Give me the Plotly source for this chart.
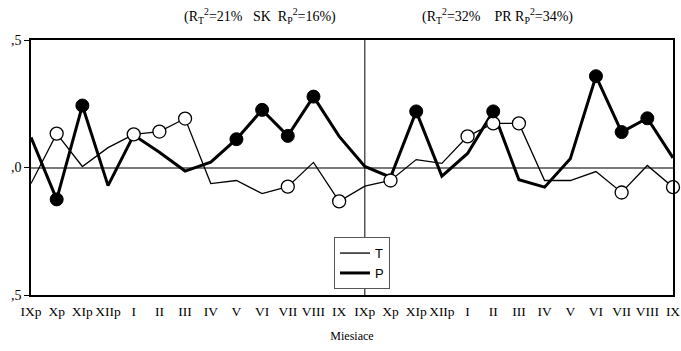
import plotly.graph_objects as go

months = ["IXp", "Xp", "XIp", "XIIp", "I", "II", "III", "IV", "V", "VI", "VII", "VIII", "IX",
          "IXp", "Xp", "XIp", "XIIp", "I", "II", "III", "IV", "V", "VI", "VII", "VIII", "IX"]

T_values = [-0.063, 0.133, 0.004, 0.078, 0.130, 0.141, 0.192, -0.063, -0.051, -0.102, -0.075, 0.020, -0.133,
            -0.073, -0.051, 0.031, 0.016, 0.122, 0.173, 0.173, -0.051, -0.051, -0.016, -0.098, 0.008, -0.077]
P_values = [0.118, -0.125, 0.243, -0.071, 0.127, 0.060, -0.014, 0.021, 0.111, 0.226, 0.124, 0.278, 0.122,
            0.004, -0.038, 0.220, -0.034, 0.055, 0.220, -0.048, -0.077, 0.034, 0.358, 0.139, 0.193, 0.038]

# indices with significant markers
T_marked = [1, 4, 5, 6, 10, 12, 14, 17, 18, 19, 23, 25]
P_marked = [1, 2, 8, 9, 10, 11, 15, 18, 22, 23, 24]

y_ticks = [-0.5, 0.0, 0.5]
y_ticktext = [",5", ",0", ",5"]

titles = ["(R<sub>T</sub><sup>2</sup>=21%   SK  R<sub>P</sub><sup>2</sup>=16%)",
          "(R<sub>T</sub><sup>2</sup>=32%    PR R<sub>P</sub><sup>2</sup>=34%)"]

x = list(range(len(months)))
serif = "Liberation Serif, Times New Roman, serif"

fig = go.Figure()
fig.add_trace(go.Scatter(x=x, y=T_values, mode="lines", line=dict(color="black", width=1.3),
                         showlegend=False, cliponaxis=False))
fig.add_trace(go.Scatter(x=x, y=P_values, mode="lines", line=dict(color="black", width=3),
                         showlegend=False, cliponaxis=False))
fig.add_trace(go.Scatter(x=[x[i] for i in T_marked], y=[T_values[i] for i in T_marked], mode="markers",
                         marker=dict(symbol="circle", size=13, color="white", line=dict(color="black", width=1.3)),
                         showlegend=False, cliponaxis=False))
fig.add_trace(go.Scatter(x=[x[i] for i in P_marked], y=[P_values[i] for i in P_marked], mode="markers",
                         marker=dict(symbol="circle", size=13, color="black", line=dict(color="black", width=1)),
                         showlegend=False, cliponaxis=False))
# legend-only entries
fig.add_trace(go.Scatter(x=[None], y=[None], mode="lines", name="T", line=dict(color="black", width=1.3)))
fig.add_trace(go.Scatter(x=[None], y=[None], mode="lines", name="P", line=dict(color="black", width=3)))

fig.add_shape(type="line", xref="x", yref="paper", x0=13, x1=13, y0=0, y1=1,
              line=dict(color="black", width=1))

fig.add_annotation(text=titles[0], xref="paper", yref="paper", x=0.357, y=1.0, yshift=12,
                   showarrow=False, font=dict(family=serif, size=14, color="black"), xanchor="center", yanchor="bottom")
fig.add_annotation(text=titles[1], xref="paper", yref="paper", x=0.726, y=1.0, yshift=12,
                   showarrow=False, font=dict(family=serif, size=14, color="black"), xanchor="center", yanchor="bottom")

fig.update_layout(
    width=681, height=351,
    margin=dict(l=31, r=8, t=40, b=56),
    paper_bgcolor="white", plot_bgcolor="white",
    font=dict(family=serif, size=14, color="black"),
    xaxis=dict(range=[0, 25], tickvals=x, ticktext=months, showgrid=False, zeroline=False,
               showline=True, mirror=True, linecolor="black", linewidth=1.5,
               ticks="outside", ticklen=3, tickcolor="rgba(0,0,0,0)",
               title=dict(text="Miesiace", font=dict(family=serif, size=12), standoff=14),
               tickfont=dict(family=serif, size=13.5), tickangle=0, automargin=False),
    yaxis=dict(range=[-0.5, 0.5], tickvals=y_ticks, ticktext=y_ticktext, showgrid=False,
               zeroline=True, zerolinecolor="#7a7a7a", zerolinewidth=2,
               showline=True, mirror=True, linecolor="black", linewidth=1.5,
               ticks="outside", ticklen=5, tickcolor="black", tickfont=dict(family=serif, size=14),
               automargin=False),
    legend=dict(x=0.472, y=0.227, xanchor="left", yanchor="top", bgcolor="white",
                bordercolor="#555555", borderwidth=1,
                font=dict(family="Liberation Sans Narrow, Liberation Sans, sans-serif", size=13),
                itemwidth=30, tracegroupgap=0),
)

fig.write_html("out.html", config={"displayModeBar": False},
               post_script="document.body.style.margin='0';")
